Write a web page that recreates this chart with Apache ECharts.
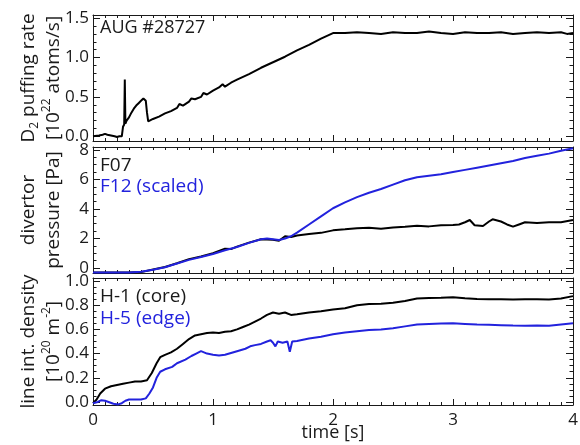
<!DOCTYPE html>
<html>
<head>
<meta charset="utf-8">
<script src="https://cdn.jsdelivr.net/npm/echarts@6/dist/echarts.min.js"></script>
<style>html,body{margin:0;padding:0;background:#fff}#c{width:580px;height:445px}</style>
</head>
<body>
<div id="c"></div>
<script>
// ---- Panel 1: D2 puffing rate [1e22 atoms/s]
const T_PUFF = [0,0.05,0.08,0.1,0.12,0.15,0.18,0.2,0.22,0.24,0.25,0.255,0.26,0.265,0.27,0.275,0.28,0.3,0.32,0.34,0.36,0.38,0.4,0.42,0.43,0.44,0.45,0.46,0.5,0.55,0.6,0.65,0.7,0.72,0.75,0.8,0.82,0.85,0.9,0.92,0.95,1.0,1.05,1.08,1.1,1.15,1.2,1.3,1.4,1.5,1.6,1.7,1.8,1.9,2.0,2.1,2.2,2.3,2.4,2.5,2.6,2.7,2.8,2.9,3.0,3.1,3.2,3.3,3.4,3.5,3.6,3.7,3.8,3.9,3.95,4.0];
const PUFF = [0.0,0.01,0.02,0.03,0.02,0.01,0.0,-0.01,0.0,0.0,0.12,0.14,0.15,0.72,0.16,0.18,0.2,0.24,0.3,0.35,0.39,0.42,0.45,0.48,0.49,0.45,0.3,0.19,0.22,0.25,0.29,0.32,0.36,0.41,0.39,0.44,0.48,0.47,0.5,0.55,0.53,0.58,0.62,0.66,0.63,0.68,0.72,0.79,0.87,0.94,1.01,1.09,1.16,1.24,1.31,1.31,1.32,1.31,1.30,1.32,1.31,1.31,1.33,1.31,1.30,1.32,1.31,1.31,1.32,1.30,1.31,1.32,1.31,1.32,1.30,1.31];

// ---- Panel 2: divertor pressure [Pa]
const T_F12 = [0,0.1,0.2,0.3,0.4,0.5,0.6,0.7,0.8,0.9,1.0,1.1,1.2,1.3,1.4,1.45,1.5,1.55,1.6,1.65,1.7,1.8,1.9,2.0,2.1,2.2,2.3,2.4,2.5,2.6,2.7,2.8,2.9,3.0,3.1,3.2,3.3,3.4,3.5,3.6,3.7,3.8,3.9,4.0];
const F12 = [-0.3,-0.3,-0.31,-0.3,-0.26,-0.12,0.05,0.3,0.55,0.75,0.95,1.2,1.42,1.7,1.95,2.0,1.95,1.9,2.0,2.15,2.4,2.95,3.5,4.05,4.45,4.8,5.1,5.35,5.65,5.95,6.15,6.25,6.35,6.5,6.65,6.8,6.95,7.1,7.25,7.45,7.6,7.75,7.95,8.12];
const T_F07 = [0,0.1,0.2,0.3,0.4,0.5,0.6,0.7,0.8,0.9,1.0,1.05,1.1,1.15,1.2,1.3,1.4,1.5,1.55,1.6,1.65,1.7,1.8,1.9,2.0,2.1,2.2,2.3,2.4,2.5,2.6,2.7,2.8,2.9,3.0,3.05,3.1,3.14,3.18,3.25,3.3,3.33,3.4,3.45,3.5,3.55,3.6,3.7,3.8,3.9,4.0];
const F07 = [-0.3,-0.3,-0.3,-0.3,-0.28,-0.1,0.07,0.32,0.6,0.78,1.0,1.15,1.3,1.28,1.45,1.72,1.95,1.92,1.85,2.15,2.1,2.2,2.3,2.38,2.55,2.62,2.7,2.72,2.66,2.75,2.8,2.86,2.82,2.9,2.92,2.95,3.1,3.25,2.9,2.85,3.15,3.3,3.15,2.95,2.8,2.95,3.1,3.05,3.1,3.1,3.25];

// ---- Panel 3: line integrated density [1e20 m^-2]
const T_H1 = [0,0.03,0.06,0.1,0.15,0.2,0.25,0.3,0.35,0.4,0.45,0.49,0.53,0.56,0.6,0.65,0.7,0.75,0.8,0.85,0.9,0.95,1.0,1.05,1.1,1.15,1.2,1.25,1.3,1.35,1.4,1.45,1.5,1.55,1.6,1.65,1.7,1.8,1.9,2.0,2.1,2.2,2.3,2.4,2.5,2.6,2.7,2.8,2.9,3.0,3.1,3.2,3.3,3.4,3.5,3.6,3.7,3.8,3.9,4.0];
const H1 = [-0.01,0.02,0.07,0.11,0.13,0.14,0.15,0.16,0.17,0.17,0.18,0.24,0.32,0.37,0.39,0.41,0.44,0.48,0.52,0.55,0.56,0.57,0.575,0.57,0.58,0.585,0.6,0.62,0.64,0.665,0.69,0.72,0.74,0.73,0.74,0.72,0.725,0.74,0.75,0.765,0.775,0.8,0.81,0.812,0.82,0.835,0.855,0.86,0.862,0.865,0.858,0.852,0.85,0.85,0.848,0.85,0.85,0.848,0.855,0.875];
const T_H5 = [0,0.04,0.07,0.1,0.13,0.17,0.21,0.24,0.27,0.3,0.35,0.4,0.44,0.47,0.5,0.53,0.56,0.6,0.66,0.7,0.77,0.82,0.86,0.9,0.95,1.0,1.05,1.1,1.15,1.2,1.27,1.31,1.35,1.4,1.45,1.48,1.5,1.52,1.54,1.58,1.62,1.64,1.66,1.7,1.8,1.9,2.0,2.1,2.2,2.3,2.4,2.5,2.6,2.7,2.8,2.9,3.0,3.1,3.2,3.3,3.4,3.5,3.6,3.7,3.8,3.9,4.0];
const H5 = [-0.01,0.0,0.015,0.01,0.0,-0.015,-0.02,-0.01,0.01,0.02,0.02,0.02,0.03,0.07,0.12,0.2,0.25,0.27,0.29,0.32,0.35,0.38,0.4,0.42,0.4,0.39,0.385,0.39,0.405,0.42,0.44,0.46,0.47,0.48,0.5,0.51,0.49,0.46,0.5,0.49,0.5,0.415,0.5,0.505,0.525,0.54,0.56,0.575,0.585,0.595,0.6,0.61,0.625,0.64,0.645,0.648,0.65,0.645,0.64,0.638,0.635,0.632,0.63,0.632,0.63,0.64,0.65];

// ---- Axis ticks / labels
const X_TICKS = [0, 1, 2, 3, 4];
const Y1_TICKS = [0, 0.5, 1.0, 1.5];
const Y1_MINOR = [0.1,0.2,0.3,0.4,0.6,0.7,0.8,0.9,1.1,1.2,1.3,1.4];
const Y2_TICKS = [0, 2, 4, 6, 8];
const Y2_MINOR = [0.5,1,1.5,2.5,3,3.5,4.5,5,5.5,6.5,7,7.5];
const Y3_TICKS = [0, 0.2, 0.4, 0.6, 0.8, 1.0];
const Y3_MINOR = [0.05,0.1,0.15,0.25,0.3,0.35,0.45,0.5,0.55,0.65,0.7,0.75,0.85,0.9,0.95];

const BLUE = '#2222dd';
const INK = '#1a1a1a';
const FONT = 'Open Sans';
const FS = 17;     // tick labels
const FS_T = 19;   // axis titles / legends

const pairs = (t, v) => t.map((x, i) => [x, v[i]]);

const GRID_POS = [
  {top: 15, height: 126},
  {top: 147, height: 126},
  {top: 278, height: 127}
];

const axLine = {show: true, onZero: false, lineStyle: {color: INK, width: 1}};
const xAxes = [];
GRID_POS.forEach((g, i) => {
  ['bottom', 'top'].forEach(pos => {
    const isLabelled = (i === 2 && pos === 'bottom');
    xAxes.push({
      type: 'value', gridIndex: i, position: pos, min: 0, max: 4, interval: 1,
      axisLine: axLine,
      axisTick: {show: true, inside: true, length: 6, customValues: X_TICKS, lineStyle: {color: INK}},
      minorTick: {show: true, splitNumber: 10, length: 3, lineStyle: {color: INK}},
      splitLine: {show: false},
      axisLabel: {show: isLabelled, margin: 7, color: INK, fontFamily: FONT, fontSize: FS,
                  customValues: X_TICKS, formatter: v => String(Math.round(v))},
      name: isLabelled ? 'time [s]' : '',
      nameLocation: 'middle', nameGap: 19, nameMoveOverlap: false,
      nameTextStyle: {color: INK, fontFamily: FONT, fontSize: 18}
    });
  });
});
// overlay grids (3..5) carry the minor y ticks
GRID_POS.forEach((g, i) => {
  xAxes.push({type: 'value', gridIndex: i + 3, min: 0, max: 4, show: false});
});

const richBase = {
  a: {fontFamily: FONT, fontSize: FS_T, lineHeight: 25, color: INK},
  sup: {fontFamily: FONT, fontSize: 12, lineHeight: 15, verticalAlign: 'top', color: INK},
  sub: {fontFamily: FONT, fontSize: 12, lineHeight: 15, verticalAlign: 'bottom', color: INK}
};
const Y_DEFS = [
  {min: -0.06, max: 1.54, ticks: Y1_TICKS, minor: Y1_MINOR, dec: 1,
   name: '{a|D}{sub|2}{a| puffing rate}\n{a|[10}{sup|22}{a| atoms/s]}'},
  {min: -0.34, max: 8.2, ticks: Y2_TICKS, minor: Y2_MINOR, dec: 0,
   name: '{a|divertor}\n{a|pressure [Pa]}'},
  {min: -0.025, max: 1.025, ticks: Y3_TICKS, minor: Y3_MINOR, dec: 1,
   name: '{a|line int. density}\n{a|[10}{sup|20}{a| m}{sup|-2}{a|]}'}
];
const yAxes = [];
Y_DEFS.forEach((d, i) => {
  ['left', 'right'].forEach(pos => {
    const left = pos === 'left';
    yAxes.push({
      type: 'value', gridIndex: i, position: pos, min: d.min, max: d.max,
      axisLine: axLine,
      axisTick: {show: true, inside: true, length: 7, customValues: d.ticks, lineStyle: {color: INK}},
      splitLine: {show: false},
      axisLabel: {show: left, margin: 4, color: INK, fontFamily: FONT, fontSize: FS,
                  customValues: d.ticks, formatter: v => v.toFixed(d.dec)},
      name: left ? d.name : '',
      nameLocation: 'middle', nameRotate: 90, nameGap: 27, nameMoveOverlap: false,
      nameTextStyle: {color: INK, fontFamily: FONT, fontSize: FS_T, lineHeight: 25, rich: richBase}
    });
  });
});
Y_DEFS.forEach((d, i) => {
  ['left', 'right'].forEach(pos => {
    yAxes.push({
      type: 'value', gridIndex: i + 3, position: pos, min: d.min, max: d.max,
      axisLine: {show: false},
      axisTick: {show: true, inside: true, length: 3.5, customValues: d.minor, lineStyle: {color: INK}},
      axisLabel: {show: false},
      splitLine: {show: false}
    });
  });
});

const line = (name, t, v, grid, color) => ({
  name, type: 'line', xAxisIndex: grid * 2, yAxisIndex: grid * 2,
  data: pairs(t, v), showSymbol: false, symbol: 'none',
  lineStyle: {color, width: 2}, itemStyle: {color}, animation: false, z: color === BLUE ? 3 : 2
});

const option = {
  animation: false,
  backgroundColor: '#fff',
  grid: GRID_POS.concat(GRID_POS).map(g => ({
    left: 93, right: 7, top: g.top, height: g.height, show: false,
    containLabel: false, outerBoundsMode: 'none'
  })),
  xAxis: xAxes,
  yAxis: yAxes,
  title: {text: 'AUG #28727', left: 100, top: 19, padding: 0,
          textStyle: {fontFamily: FONT, fontSize: 18, fontWeight: 'normal', color: INK}},
  legend: [
    {data: [{name: 'F07', textStyle: {color: INK}}, {name: 'F12 (scaled)', textStyle: {color: BLUE}}],
     orient: 'vertical', left: 95, top: 156, padding: 0, itemWidth: 0, itemHeight: 14, itemGap: 2,
     icon: 'none', selectedMode: false, textStyle: {fontFamily: FONT, fontSize: FS_T}},
    {data: [{name: 'H-1 (core)', textStyle: {color: INK}}, {name: 'H-5 (edge)', textStyle: {color: BLUE}}],
     orient: 'vertical', left: 95, top: 287, padding: 0, itemWidth: 0, itemHeight: 14, itemGap: 3,
     icon: 'none', selectedMode: false, textStyle: {fontFamily: FONT, fontSize: FS_T}}
  ],
  series: [
    line('D2 puffing', T_PUFF, PUFF, 0, '#000'),
    line('F07', T_F07, F07, 1, '#000'),
    line('F12 (scaled)', T_F12, F12, 1, BLUE),
    line('H-1 (core)', T_H1, H1, 2, '#000'),
    line('H-5 (edge)', T_H5, H5, 2, BLUE)
  ]
};
const chart = echarts.init(document.getElementById('c'), null, {renderer: 'canvas'});
chart.setOption(option);
</script>
</body>
</html>
